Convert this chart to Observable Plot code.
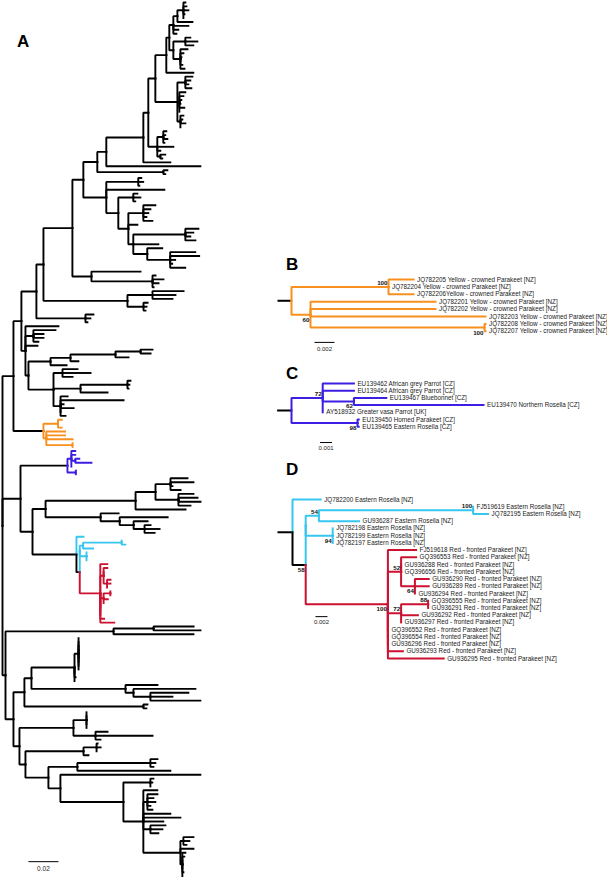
<!DOCTYPE html>
<html><head><meta charset="utf-8">
<script src="https://cdn.jsdelivr.net/npm/d3@7"></script>
<script src="https://cdn.jsdelivr.net/npm/@observablehq/plot@0.6"></script>
<style>
body{margin:0;background:#fff;}
#fig{position:relative;width:607px;height:877px;overflow:hidden;background:#fff;}
#fig svg{position:absolute;left:0;top:0;}
.letter{position:absolute;font:bold 17px "Liberation Sans",Arial,sans-serif;line-height:17px;color:#000;}
</style></head><body><div id="fig"></div>
<script>
// ---------------- DATA ----------------
// Panel B (substitutions/site), support values as internal labels
const newickB = "((JQ782205:0.0025,JQ782204:0,JQ782206:0.0025)100:0.0097,(JQ782201:0.0125,JQ782202:0.0125,JQ782203:0.0175,(JQ782208:0.0001,JQ782207:0.0001)100:0.0174)60:0.0019)";
const labelsB = ["JQ782205 Yellow - crowned Parakeet [NZ]","JQ782204 Yellow - crowned Parakeet [NZ]","JQ782206Yellow - crowned Parakeet [NZ]","JQ782201 Yellow - crowned Parakeet [NZ]","JQ782202 Yellow - crowned Parakeet [NZ]","JQ782203 Yellow - crowned Parakeet [NZ]","JQ782208 Yellow - crowned Parakeet [NZ]","JQ782207 Yellow - crowned Parakeet [NZ]"];
const stubB = 0.0014;

const newickC = "((EU139462:0.0026,EU139464:0.0026,(EU139467:0.0027,EU139470:0.0108)62:0.0026,AY518932:0)72:0.0026,(EU139450:0.0001,EU139465:0.0001)98:0.0055)";
const labelsC = ["EU139462 African grey Parrot [CZ]","EU139464 African grey Parrot [CZ]","EU139467 Bluebonnet [CZ]","EU139470 Northern Rosella [CZ]","AY518932 Greater vasa Parrot [UK]","EU139450 Horned Parakeet [CZ]","EU139465 Eastern Rosella [CZ]"];
const stubC = 0.0012;

const newickD = "(JQ782200:0.0047,((((FJ519619:0,JQ782195:0.0025)100:0.0257,GU936287:0.0067)54:0.0022,(JQ782198:0,JQ782199:0,JQ782197:0)94:0.0045):0,(FJ519618:0.0047,(GQ396553:0.0025,GU936288:0,GQ396656:0,(GU936290:0.0023,GU936289:0.0023,GU936294:0)64:0.0023)52:0.0022,((GQ396555:0,GU936291:0)88:0.0045,GU936292:0.0028,GU936297:0)72:0.0022,GQ396552:0,GQ396554:0,GU936296:0,GU936293:0.0025,GU936295:0.0093)100:0.0137)58:0.0022)";
const labelsD = ["JQ782200 Eastern Rosella [NZ]","FJ519619 Eastern Rosella [NZ]","JQ782195 Eastern Rosella [NZ]","GU936287 Eastern Rosella [NZ]","JQ782198 Eastern Rosella [NZ]","JQ782199 Eastern Rosella [NZ]","JQ782197 Eastern Rosella [NZ]","FJ519618 Red - fronted Parakeet [NZ]","GQ396553 Red - fronted Parakeet [NZ]","GU936288 Red - fronted Parakeet [NZ]","GQ396656 Red - fronted Parakeet [NZ]","GU936290 Red - fronted Parakeet [NZ]","GU936289 Red - fronted Parakeet [NZ]","GU936294 Red - fronted Parakeet [NZ]","GQ396555 Red - fronted Parakeet [NZ]","GU936291 Red - fronted Parakeet [NZ]","GU936292 Red - fronted Parakeet [NZ]","GU936297 Red - fronted Parakeet [NZ]","GQ396552 Red - fronted Parakeet [NZ]","GQ396554 Red - fronted Parakeet [NZ]","GU936296 Red - fronted Parakeet [NZ]","GU936293 Red - fronted Parakeet [NZ]","GU936295 Red - fronted Parakeet [NZ]"];
const stubD = 0.0025;

// Panel A: clades (branch lengths in units of 0.001 subst./site); @B @C @D = coloured subtrees
const unitA = 0.001;
const cladesUpper = [
 ["root","(U:7.3,M:12,L:2)"],["U","(V:5.3,@B:20)"],["V","(W:10,X:2.7)"],["W","(Z:4.7,Wc:32.7)"],
 ["Z","(Z1:19.3,Z2:56)"],["Z1","(Y83:7.3,Z1b:12.7)"],["Y83","(Y97:9.3,S106:15.3)"],["Y97","(Y106:6,Yt:44)"],
 ["Y106","(G143:24.7,:62.7)"],["G143","(G148:3.3,:18)"],["G148","(T0:4.7,G157:6)"],["T0","(T1:7.3,T2:14.7)"],
 ["T1","(T4:2,:18)"],["T4","(T5:2.7,T6:2.7)"],["T5","(a:2.7,:10,:3.3,:2)"],["a","(b:4,:10)"],
 ["b","(:1.3,:2,:3.3,:0.7,:0)"],["T6","(T6a:8,T6b:4.7)"],["T6a","(:3.3,:8,:5.3)"],["T6b","(:4.7,:2,:0.7,:0,:1.3,:2.7)"],
 ["T2","(T2a:5.3,T2b:1.3,T2c:2)"],["T2a","(:4.7,:3.3,:2,:4)"],["T2b","(:4,:2.7,:1.3,:0.7,:3.3,:0)"],["T2c","(:2,:1.3,:3.3,:0)"],
 ["G157","(G163:4,:10.7,:2,G160:2)"],["G163","(:2,:1.3,:2.7,:0.7)"],["G160","(:3.3,:1.3)"],["Yt","(:2.7,:1.3)"]
];
const cladesMiddle = [
 ["S106","(Sa:21.3,:38.7,Sc:8)"],["Sa","(:2,:3.3,:0.7)"],["Sc","(Sd:10,Se:6.7)"],["Sd","(:2.7,:4.7,:1.3)"],
 ["Se","(Sf:10,:6,Sh:3.3)"],["Sf","(:8,:4.7,:3.3,:2,:6)"],["Sh","(Si:34.7,:16.7,Sk:9.3)"],["Si","(:8.7,:5.3,:3.3,:6.7)"],
 ["Sk","(:10,Sl:15.3)"],["Sl","(:16.7,:19.3,:3.3,:1.3,:10)"],["Z1b","(:32.7,Z1c:40.7)"],["Z1c","(:2,:7.3,:4,:0.7)"],
 ["Z2","(Z2a:16.7,Z2b:10.7)"],["Z2a","(:20.7,:15.3,:13.3)"],["Z2b","(:2.7,:2,:1.3)"],["Wc","(:5.3,:3.3,:1.3)"],
 ["X","(:22,Xa:5.3,:8,Xb:2)"],["Xa","(:14.7,:6.7,:6.7,:3.3)"],["Xb","(Xc:14.7,Xd:16.7)"],["Xc","(Xe:13.3,:10.7)"],
 ["Xe","(Xf:30,:5.3)"],["Xf","(Xf1:16.7,:8.7)"],["Xf1","(:8,:6.7)"],["Xd","(Xg:6,Xh:18,Xi:4.7)"],
 ["Xg","(:10,:18.7,:6.7)"],["Xh","(Xh1:31.3,:18)"],["Xh1","(:2,:1.3,:0.7)"],["Xi","(:4.7,:42,:2,:8.7,:0,:3.3)"],
 ["M","(@C:31.3,N:8)"],["N","(P:8.7,@D:29.3)"],["P","(P1:60,P2:36.7)"],["P1","(P3:13.3,:33.3)"],
 ["P3","(P4:10,P5:15.3)"],["P4","(:11.3,:15.3,:1.3,:6.7)"],["P5","(:10,:12.7,:14.7,:8)"],["P2","(:12,P6:12.7)"],
 ["P6","(:32,P7:9.3)"],["P7","(:9.3,P8:7.3)"],["P8","(:4,:10,:6.7)"]
];
const cladesLower = [
 ["L","(L1:72,L2:5.3)"],["L1","(L1a:26.7,:53.3)"],["L1a","(:26.7,:31.3)"],["L2","(L3:7.3,L4:4)"],
 ["L3","(L5:4.7,L6:79.3)"],["L5","(Lbar:28.7,L7:62.7)"],["Lbar","(Lbar1:2.7,:0,:0.7,:0)"],["Lbar1","(,,,,,,,,)"],
 ["L7","(:21.3,L8:5.3)"],["L8","(:41.3,L9:11.3)"],["L9","(:25.3,:14.7,:33.3)"],["L6","(:2.7,:2)"],
 ["L4","(L10:36,L11:4)"],["L10","(L10a:8.7,L10b:14.7)"],["L10a","(,,,,)"],["L10b","(:8,:38,:3.3)"],
 ["L11","(L12:38.7,L13:15.3)"],["L12","(L12a:8.7,:3.3)"],["L12a","(:0.7,:2.7,:0)"],["L13","(L14:19.3,L15:8)"],
 ["L14","(L14a:48.7,:62)"],["L14a","(:4.7,:3.3,:2)"],["L15","(:93.3,L16:42)"],["L16","(L16a:18,L17:13.3)"],
 ["L16a","(:2,:1.3,:0)"],["L17","(:9.3,L18:2.7,:18,:24.7,:13.3,L19:4.7,L20:24.7)"],["L18","(:6.7,:4,:5.3,:2,:3.3)"],
 ["L19","(:10,:8,:5.3)"],["L20","(L20a:2,:8.7,L20b:1.3)"],["L20a","(:6.7,:4,:2)"],["L20b","(:2,:1.3,:0,:0,:0,:0.7,:0)"]
];
const scaleBarValues = {A: 0.02, B: 0.002, C: 0.001, D: 0.002};

// ---------------- CODE ----------------
const COL = {B: "#f7901e", C: "#3c1fe2", cyan: "#36c6ef", red: "#cc1131", black: "#000"};

function parseNewick(s) {
  let i = 0;
  function node() {
    const n = {children: [], name: "", length: 0};
    if (s[i] === "(") {
      i++;
      n.children.push(node());
      while (s[i] === ",") { i++; n.children.push(node()); }
      i++;
    }
    let lab = "";
    while (i < s.length && !":,()".includes(s[i])) lab += s[i++];
    n.name = lab.trim();
    if (s[i] === ":") { i++; let num = ""; while (i < s.length && !",()".includes(s[i])) num += s[i++]; n.length = +num || 0; }
    return n;
  }
  return node();
}
function walk(n, f) { f(n); n.children.forEach(c => walk(c, f)); }

function makeSubtree(key) {
  const [nw, labels] = {B: [newickB, labelsB], C: [newickC, labelsC], D: [newickD, labelsD]}[key];
  const t = parseNewick(nw);
  walk(t, n => {
    if (!n.children.length) n.label = labels.find(l => l.startsWith(n.name));
    else if (n.name) n.support = n.name;
  });
  if (key === "D") {
    (function col(n) {
      if (!n.children.length) n.color = n.label.includes("Eastern Rosella") ? COL.cyan : COL.red;
      else { n.children.forEach(col); const cs = new Set(n.children.map(c => c.color)); n.color = cs.size === 1 ? [...cs][0] : COL.black; }
    })(t);
  } else walk(t, n => n.color = COL[key]);
  t.color = COL.black;
  return t;
}

const cladeMap = new Map([...cladesUpper, ...cladesMiddle, ...cladesLower]);
function buildA(name) {
  const t = parseNewick(cladeMap.get(name));
  (function fix(n) {
    n.length *= unitA;
    n.color = COL.black;
    n.children = n.children.map(c => {
      if (!c.children.length && c.name) {
        const len = c.length * unitA;
        const sub = c.name.startsWith("@") ? makeSubtree(c.name.slice(1)) : buildA(c.name);
        sub.length = len;
        return sub;
      }
      fix(c);
      return c;
    });
  })(t);
  return t;
}

function layout(root) {
  let row = 0; const nodes = [];
  (function rec(n, depth, parent) {
    n.x = depth; n.parent = parent; nodes.push(n);
    if (n.children.length) {
      n.children.forEach(c => rec(c, depth + c.length, n));
      n.y = (n.children[0].y + n.children[n.children.length - 1].y) / 2;
    } else n.y = row++;
  })(root, 0, null);
  return nodes;
}

const FONT = "Liberation Sans, Arial, Helvetica, sans-serif";
function drawPanel(cfg) {
  const nodes = layout(cfg.tree);
  const root = cfg.tree;
  const links = nodes.filter(n => n.parent).map(n => ({x1: n.parent.x, y1: n.parent.y, x2: n.x, y2: n.y, color: n.color}));
  const marks = [];
  if (cfg.stub) marks.push(Plot.link([{x1: -cfg.stub, x2: 0, y: root.y}], {x1: "x1", x2: "x2", y1: "y", y2: "y", stroke: COL.black, strokeWidth: cfg.sw}));
  marks.push(Plot.link(links, {x1: "x1", y1: "y1", x2: "x2", y2: "y2", stroke: "color", strokeWidth: cfg.sw, curve: "step-before", strokeLinecap: "square", strokeLinejoin: "miter"}));
  if (cfg.labels) {
    const leaves = nodes.filter(n => !n.children.length);
    marks.push(Plot.text(leaves, {x: "x", y: "y", text: "label", textAnchor: "start", dx: 3.5, fontSize: 6.3, fill: "#1a1a1a"}));
    const sup = nodes.filter(n => n.support);
    sup.forEach((n, i) => n.pos = cfg.supportPos[i]);
    marks.push(Plot.text(sup.filter(n => n.pos === "above"), {x: "x", y: "y", text: "support", textAnchor: "end", dx: -1, dy: -4, fontSize: 6.2, fontWeight: "bold", fill: "#111"}));
    marks.push(Plot.text(sup.filter(n => n.pos === "below"), {x: "x", y: "y", text: "support", textAnchor: "end", dx: -1, dy: 5, fontSize: 6.2, fontWeight: "bold", fill: "#111"}));
  }
  const b = cfg.bar;
  marks.push(Plot.link([{x1: b.x, x2: b.x + b.value, y: b.row}], {x1: "x1", x2: "x2", y1: "y", y2: "y", stroke: "#000", strokeWidth: 1}));
  marks.push(Plot.text([{x: b.x + b.value / 2, y: b.labelRow, t: String(b.value)}], {x: "x", y: "y", text: "t", fontSize: cfg.barFont, fill: "#222"}));
  const svg = Plot.plot({
    width: 607, height: 877,
    margin: 0,
    style: {background: "transparent", fontFamily: FONT},
    x: {domain: [0, 1], range: [cfg.rootX, cfg.rootX + cfg.ppu], axis: null},
    y: {domain: [0, 1], range: [cfg.firstY, cfg.firstY + cfg.step], axis: null},
    color: {type: "identity"},
    marks
  });
  return svg;
}

const panels = [
  {tree: buildA("root"), rootX: 2, firstY: 2, step: 3.9, ppu: 1500, sw: 1.9, labels: false, barFont: 6.5,
   bar: {value: scaleBarValues.A, x: 0.0173, row: 220.3, labelRow: 222.1}},
  {tree: makeSubtree("B"), stub: stubB, rootX: 291, firstY: 279, step: 7.4, ppu: 10000, sw: 2, labels: true, barFont: 6,
   supportPos: ["above", "below", "below"], bar: {value: scaleBarValues.B, x: 0.0023, row: 8.5, labelRow: 9.4}},
  {tree: makeSubtree("C"), stub: stubC, rootX: 291, firstY: 383, step: 7.2, ppu: 12000, sw: 2, labels: true, barFont: 6,
   supportPos: ["above", "below", "below"], bar: {value: scaleBarValues.C, x: 0.00238, row: 8.2, labelRow: 9.0}},
  {tree: makeSubtree("D"), stub: stubD, rootX: 292, firstY: 499, step: 7.23, ppu: 6000, sw: 2, labels: true, barFont: 6,
   supportPos: ["below", "above", "above", "below", "below", "above", "below", "above", "above"],
   bar: {value: scaleBarValues.D, x: 0.00383, row: 16.2, labelRow: 16.95}}
];

const fig = document.getElementById("fig");
panels.forEach(p => fig.appendChild(drawPanel(p)));

[["A", 17, 33], ["B", 286, 256], ["C", 286, 365], ["D", 286, 461]].forEach(([t, x, y]) => {
  const d = document.createElement("div");
  d.className = "letter"; d.textContent = t;
  d.style.left = x + "px"; d.style.top = y + "px";
  fig.appendChild(d);
});
</script></body></html>
